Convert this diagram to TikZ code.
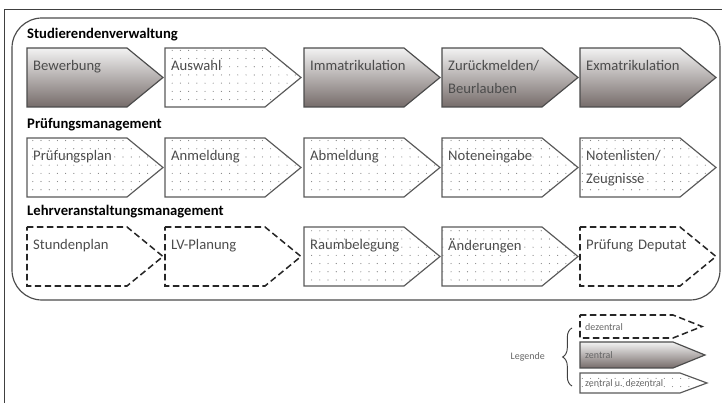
\documentclass[tikz,border=0pt]{standalone}
\usepackage{fontspec}
\setmainfont{Carlito}
\usetikzlibrary{patterns.meta,decorations.pathreplacing}

\definecolor{braun}{RGB}{118,108,106}

% Prozesspfeil: Stil, x, y, Rumpf, Spitze, Hoehe
\newcommand{\pfeil}[6]{%
  \draw[#1] (#2,#3) -- ++(#4,0) -- ++(#5,#6/2) -- ++(-#5,#6/2) -- ++(-#4,0) -- cycle;
}

\begin{document}
\begin{tikzpicture}[x=0.03cm, y=-0.03cm,
  zentral/.style={draw=black!70, line width=1pt, top color=black!5, bottom color=braun},
  gemischt/.style={draw=black!65, line width=1pt, pattern={Dots[distance=7pt,radius=0.5pt]}, pattern color=black!50},
  dezentral/.style={draw=black!85, line width=1.3pt, dash pattern=on 5.5pt off 3pt},
  prozess/.style={anchor=north west, inner sep=0pt, text width=4cm, align=left,
    text=black!70, font=\fontsize{12.5}{20}\selectfont},
  titel/.style={anchor=west, inner sep=0pt, font=\bfseries\fontsize{12.5}{15}\selectfont},
  klein/.style={anchor=west, inner sep=0pt, text=black!60, font=\fontsize{8.5}{10}\selectfont}]
  \useasboundingbox (0,0) rectangle (722,403);

  % Rahmen
  \draw[black!75, line width=0.8pt] (4,403) -- (4,9) -- (722,9);
  \draw[black!70, line width=1pt, rounded corners=0.9cm] (12,18) rectangle (720,300);

  % Studierendenverwaltung
  \node[titel] (svw) at (27,35) {Studierendenverwaltung};
  \pfeil{zentral}{27}{48}{100}{36}{59}
  \pfeil{gemischt}{165}{48}{100}{36}{59}
  \pfeil{zentral}{304}{48}{100}{36}{59}
  \pfeil{zentral}{442}{48}{100}{36}{59}
  \pfeil{zentral}{580}{48}{100}{36}{59}
  \node[prozess] (bewerbung) at (33,60) {Bewerbung};
  \node[prozess] (auswahl) at (171,60) {Auswahl};
  \node[prozess] (immatrikulation) at (310,60) {Immatrikulation};
  \node[prozess] (zurueckmelden) at (448,60) {Zurückmelden/\\Beurlauben};
  \node[prozess] (exmatrikulation) at (586,60) {Exmatrikulation};

  % Pruefungsmanagement
  \node[titel] (pm) at (27,125) {Prüfungsmanagement};
  \pfeil{gemischt}{27}{138}{100}{36}{59}
  \pfeil{gemischt}{165}{138}{100}{36}{59}
  \pfeil{gemischt}{304}{138}{100}{36}{59}
  \pfeil{gemischt}{442}{138}{100}{36}{59}
  \pfeil{gemischt}{580}{138}{100}{36}{59}
  \node[prozess] (pruefungsplan) at (33,150) {Prüfungsplan};
  \node[prozess] (anmeldung) at (171,150) {Anmeldung};
  \node[prozess] (abmeldung) at (310,150) {Abmeldung};
  \node[prozess] (noteneingabe) at (448,150) {Noteneingabe};
  \node[prozess] (notenlisten) at (586,150) {Notenlisten/\\Zeugnisse};

  % Lehrveranstaltungsmanagement
  \node[titel] (lvm) at (27,212) {Lehrveranstaltungsmanagement};
  \pfeil{dezentral}{27}{227}{100}{36}{59}
  \pfeil{dezentral}{165}{227}{100}{36}{59}
  \pfeil{gemischt}{304}{227}{100}{36}{59}
  \pfeil{gemischt}{442}{227}{100}{36}{59}
  \pfeil{dezentral}{580}{227}{100}{36}{59}
  \node[prozess] (stundenplan) at (33,239) {Stundenplan};
  \node[prozess] (lvplanung) at (171,239) {LV-Planung};
  \node[prozess] (raumbelegung) at (310,239) {Raumbelegung};
  \node[prozess] (aenderungen) at (448,239) {Änderungen};
  \node[prozess] (deputat) at (586,239) {Prüfung Deputat};

  % Legende
  \pfeil{dezentral}{580}{315}{93}{29}{23}
  \pfeil{zentral}{580}{342}{93}{32}{26}
  \pfeil{gemischt}{580}{373}{100}{27}{20}
  \node[klein] (ldez) at (585,327) {dezentral};
  \node[klein] (lzen) at (585,355) {zentral};
  \node[klein] (lgem) at (585,383) {zentral u. dezentral};
  \node[klein, anchor=east] (legende) at (545,357) {Legende};
  \draw[black!75, line width=0.8pt, decorate, decoration={brace, amplitude=8pt}]
    (572,386) -- (572,328);
\end{tikzpicture}
\end{document}
